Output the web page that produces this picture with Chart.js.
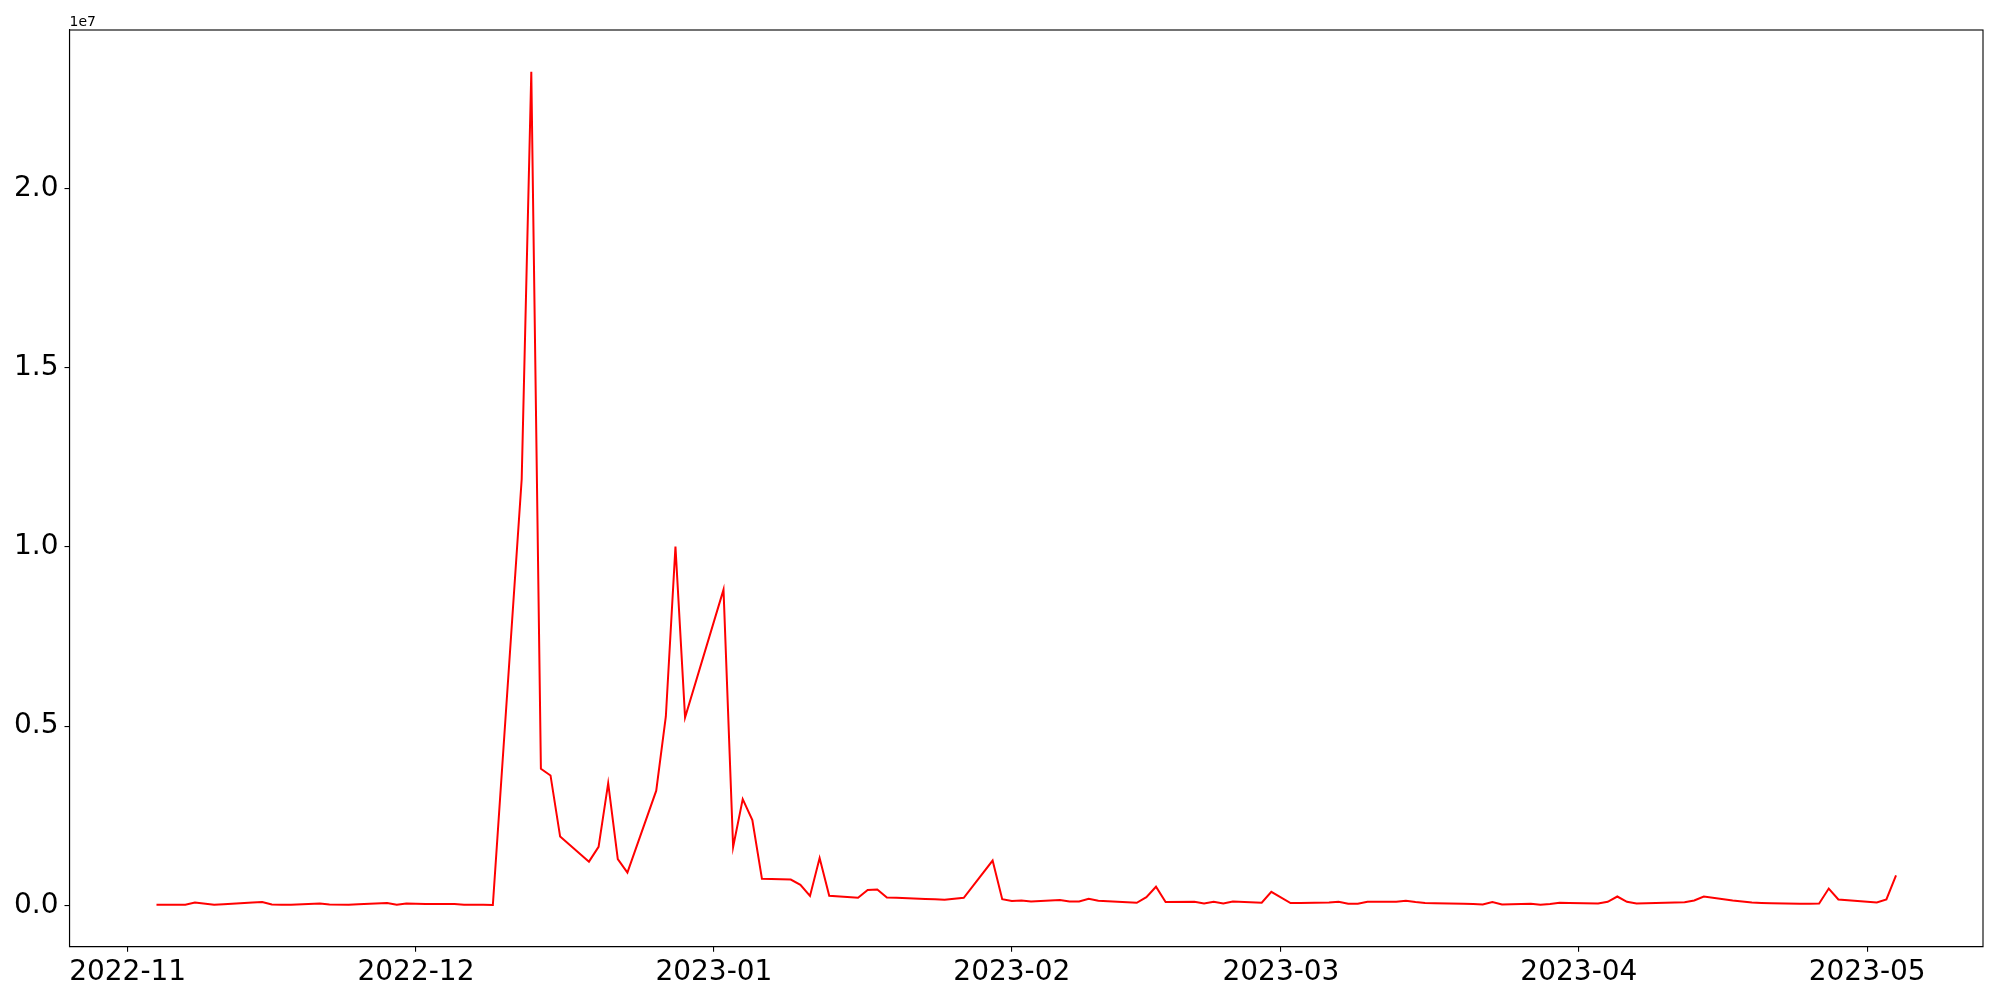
<!DOCTYPE html>
<html>
<head>
<meta charset="utf-8">
<script src="https://cdn.jsdelivr.net/npm/chart.js@4.4.0/dist/chart.umd.min.js"></script>
<style>
    body { margin: 0; background: #fff; }
    #wrap { width: 2000px; height: 1000px; }
</style>
</head>
<body>
<div id="wrap"><canvas id="grafico" width="2000" height="1000"></canvas></div>
<script>
// Datos (fecha -> valor)
const fechas = [
    '2022-11-04', '2022-11-07', '2022-11-08', '2022-11-10', '2022-11-11', '2022-11-14', '2022-11-15',
    '2022-11-16', '2022-11-17', '2022-11-18', '2022-11-21', '2022-11-22', '2022-11-24', '2022-11-25',
    '2022-11-28', '2022-11-29', '2022-11-30', '2022-12-01', '2022-12-02', '2022-12-05', '2022-12-06',
    '2022-12-07', '2022-12-08', '2022-12-09', '2022-12-12', '2022-12-13', '2022-12-14', '2022-12-15',
    '2022-12-16', '2022-12-19', '2022-12-20', '2022-12-21', '2022-12-22', '2022-12-23', '2022-12-26',
    '2022-12-27', '2022-12-28', '2022-12-29', '2023-01-02', '2023-01-03', '2023-01-04', '2023-01-05',
    '2023-01-06', '2023-01-09', '2023-01-10', '2023-01-11', '2023-01-12', '2023-01-13', '2023-01-16',
    '2023-01-17', '2023-01-18', '2023-01-19', '2023-01-20', '2023-01-23', '2023-01-24', '2023-01-25',
    '2023-01-27', '2023-01-30', '2023-01-31', '2023-02-01', '2023-02-02', '2023-02-03', '2023-02-06',
    '2023-02-07', '2023-02-08', '2023-02-09', '2023-02-10', '2023-02-13', '2023-02-14', '2023-02-15',
    '2023-02-16', '2023-02-17', '2023-02-20', '2023-02-21', '2023-02-22', '2023-02-23', '2023-02-24',
    '2023-02-27', '2023-02-28', '2023-03-02', '2023-03-03', '2023-03-06', '2023-03-07', '2023-03-08',
    '2023-03-09', '2023-03-10', '2023-03-13', '2023-03-14', '2023-03-15', '2023-03-16', '2023-03-17',
    '2023-03-20', '2023-03-21', '2023-03-22', '2023-03-23', '2023-03-24', '2023-03-27', '2023-03-28',
    '2023-03-29', '2023-03-30', '2023-03-31', '2023-04-03', '2023-04-04', '2023-04-05', '2023-04-06',
    '2023-04-07', '2023-04-11', '2023-04-12', '2023-04-13', '2023-04-14', '2023-04-17', '2023-04-18',
    '2023-04-19', '2023-04-20', '2023-04-21', '2023-04-24', '2023-04-25', '2023-04-26', '2023-04-27',
    '2023-04-28', '2023-05-02', '2023-05-03', '2023-05-04'
];
const valores = [
    17000, 17000, 80000, 17000, 32000, 78000, 92000,
    25000, 20000, 17000, 53000, 25000, 20000, 32000,
    64000, 17000, 53000, 45000, 40000, 36000, 17000,
    18000, 15000, 10000, 11890000, 23260000, 3810000, 3625000,
    1920000, 1220000, 1635000, 3410000, 1290000, 915000, 3200000,
    5270000, 10014000, 5240000, 8810000, 1630000, 2965000, 2380000,
    742000, 720000, 575000, 265000, 1320000, 268000, 212000,
    427000, 444000, 220000, 210000, 180000, 168000, 156000,
    210000, 1250000, 175000, 125000, 137000, 110000, 148000,
    110000, 110000, 184000, 128000, 87000, 73000, 230000,
    520000, 92000, 100000, 53000, 100000, 53000, 110000,
    73000, 380000, 64000, 66000, 80000, 100000, 45000,
    45000, 100000, 100000, 128000, 92000, 70000, 60000,
    45000, 40000, 25000, 92000, 25000, 45000, 17000,
    36000, 73000, 65000, 53000, 100000, 248000, 100000,
    53000, 80000, 85000, 137000, 248000, 137000, 110000,
    83000, 70000, 60000, 45000, 45000, 53000, 470000,
    165000, 80000, 165000, 834000
];
const etiquetasMes = ['2022-11', '2022-12', '2023-01', '2023-02', '2023-03', '2023-04', '2023-05'];
const ticksY = [0, 5000000, 10000000, 15000000, 20000000];

const DIA = 86400000;
const origen = Date.UTC(2022, 10, 1);
function aDia(str) {
    const p = str.split('-').map(Number);
    return (Date.UTC(p[0], p[1] - 1, p[2] || 1) - origen) / DIA;
}

const puntos = fechas.map((f, i) => ({ x: aDia(f), y: valores[i] }));
const ticksX = etiquetasMes.map(aDia);

// márgenes tipo matplotlib (5%)
const xs = puntos.map(p => p.x);
const xMin = Math.min(...xs), xMax = Math.max(...xs);
const yMin = Math.min(...valores), yMax = Math.max(...valores);
const mx = (xMax - xMin) * 0.05, my = (yMax - yMin) * 0.05;

const marco = {
    id: 'marco',
    afterDraw(chart) {
        const { ctx, chartArea: a } = chart;
        ctx.save();
        ctx.strokeStyle = '#000';
        ctx.lineWidth = 1.1;
        ctx.strokeRect(a.left, a.top, a.right - a.left, a.bottom - a.top);
        ctx.fillStyle = '#000';
        ctx.font = '14px "DejaVu Sans"';
        ctx.textAlign = 'left';
        ctx.textBaseline = 'alphabetic';
        ctx.fillText('1e7', a.left, a.top - 4);
        ctx.restore();
    }
};

const fuente = { family: '"DejaVu Sans", sans-serif', size: 28 };

new Chart(document.getElementById('grafico'), {
    type: 'line',
    data: {
        datasets: [{
            data: puntos,
            borderColor: '#ff0000',
            borderWidth: 2,
            pointRadius: 0,
            tension: 0,
            fill: false
        }]
    },
    options: {
        responsive: false,
        animation: false,
        layout: { padding: { top: 30, right: 17, left: 0, bottom: 0 } },
        plugins: { legend: { display: false }, tooltip: { enabled: false } },
        scales: {
            x: {
                type: 'linear',
                min: xMin - mx,
                max: xMax + mx,
                afterBuildTicks: s => { s.ticks = ticksX.map(v => ({ value: v })); },
                afterFit: s => { s.height = 53.3; },
                ticks: {
                    autoSkip: false,
                    maxRotation: 0,
                    padding: 4,
                    color: '#000',
                    font: fuente,
                    callback: (v, i) => etiquetasMes[i]
                },
                grid: { drawOnChartArea: false, drawTicks: true, tickLength: 5, color: '#000', lineWidth: 1.1 },
                border: { display: true, color: '#000', width: 1.1 }
            },
            y: {
                type: 'linear',
                min: yMin - my,
                max: yMax + my,
                afterBuildTicks: s => { s.ticks = ticksY.map(v => ({ value: v })); },
                afterFit: s => { s.width = 69.5; },
                ticks: {
                    padding: 6,
                    color: '#000',
                    font: fuente,
                    callback: v => (v / 1e7).toFixed(1)
                },
                grid: { drawOnChartArea: false, drawTicks: true, tickLength: 5, color: '#000', lineWidth: 1.1 },
                border: { display: true, color: '#000', width: 1.1 }
            }
        }
    },
    plugins: [marco]
});
</script>
</body>
</html>
